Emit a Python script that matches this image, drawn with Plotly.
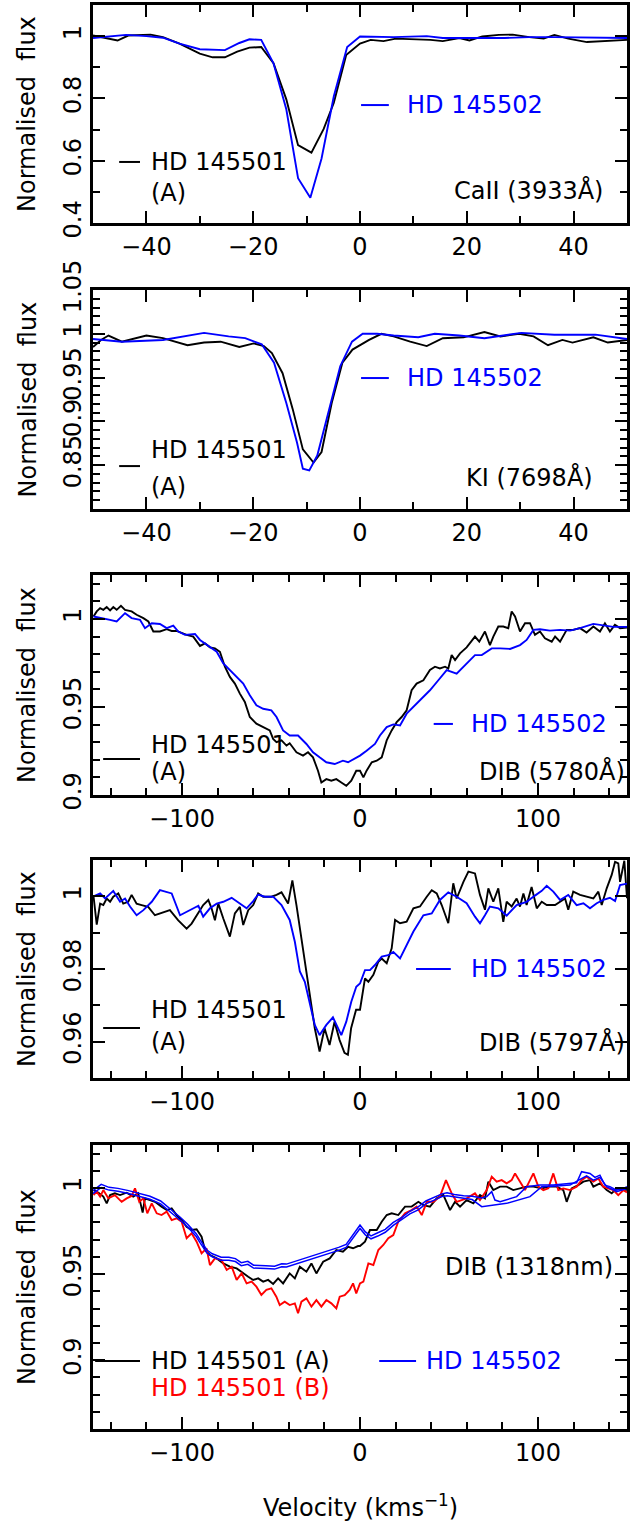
import plotly.graph_objects as go

# ---------------- data ----------------
# Panel 1: CaII (3933 A)
ca_a_v = [-50, -45.4, -43.4, -39.2, -36.9, -33.8, -30, -27.6, -25.3, -23, -20.7, -18.5, -16.2, -13.8, -11.6, -9.1,
          -6.8, -4.9, -2.6, 0, 2, 4.4, 6.7, 10.1, 13.2, 15.5, 18.6, 20.5, 22.9, 26, 28.6, 31.7, 34.4, 36.4, 39, 42.5, 45.6, 50]
ca_a_f = [1.002, 0.986, 1.002, 1.005, 0.997, 0.976, 0.944, 0.932, 0.932, 0.95, 0.963, 0.965, 0.913, 0.797, 0.65, 0.626,
          0.702, 0.786, 0.939, 0.976, 0.988, 0.984, 0.992, 0.99, 0.988, 0.984, 0.994, 0.986, 0.999, 1.004, 1.005, 0.997, 0.992, 1.004, 0.992, 0.981, 0.984, 0.988]
ca_b_v = [-50, -43.8, -40, -36.9, -33.8, -30, -25.3, -22.6, -20.7, -18.5, -16.2, -13.8, -11.6, -9.3, -7.2, -4.9, -2.4,
          0, 6.3, 12.5, 15.5, 20.9, 27.1, 31.7, 36.4, 50]
ca_b_f = [0.994, 1.004, 1.0, 0.995, 0.976, 0.958, 0.955, 0.978, 0.99, 0.988, 0.913, 0.765, 0.544, 0.481, 0.607, 0.807, 0.965,
          0.999, 0.997, 1.0, 0.994, 0.994, 0.994, 0.997, 0.997, 0.994]

# Panel 2: KI (7698 A)
k_a_v = [-50, -48.5, -47.1, -44.6, -40, -36.9, -32.3, -29.2, -26.1, -22.6, -19.9, -18, -16.5, -14.5, -12.6, -10.7, -8.7,
         -7.2, -5.3, -3.3, -1.4, 1.7, 4, 6.3, 9.4, 12.5, 15.5, 19.4, 23.3, 26.3, 29.8, 32.5, 35.2, 37.9, 39.8, 43.7, 46.4, 50]
k_a_f = [0.985, 0.993, 0.998, 0.991, 0.998, 0.995, 0.987, 0.990, 0.991, 0.985, 0.989, 0.986, 0.978, 0.955, 0.914, 0.868, 0.853,
         0.865, 0.921, 0.967, 0.982, 0.993, 1.0, 0.997, 0.991, 0.986, 0.995, 0.996, 1.002, 0.997, 1.0, 0.997, 0.987, 0.993, 0.990, 0.996, 0.990, 0.993]
k_b_v = [-50, -44.6, -36.9, -29.2, -24.6, -21.5, -18.4, -16.1, -13.8, -11.8, -10.7, -9.5, -8, -6, -3.7, -1.5, 0.5, 3.2,
         6.3, 10.9, 14, 18.6, 23.3, 30.2, 36.4, 44.1, 50]
k_b_f = [0.994, 0.991, 0.993, 1.001, 0.997, 0.995, 0.988, 0.967, 0.921, 0.876, 0.846, 0.844, 0.861, 0.91, 0.963, 0.991, 1.0, 1.0,
         0.998, 0.996, 1.0, 0.998, 0.995, 1.001, 0.999, 0.999, 0.994]

# Panel 3: DIB (5780 A)
d57_a_v = [-149.7, -147.9, -146, -144.2, -142.3, -140.4, -138.6, -136.7, -134.3, -132, -128.3, -125.5, -121.7, -118.9, -116.1,
           -112.4, -108.6, -105.8, -103, -100.2, -97.4, -93.7, -89.9, -87.1, -84.3, -81.5, -78.7, -75.9, -73.1, -70.3, -67.5,
           -64.7, -61.9, -58.2, -54.4, -50.7, -48.8, -46.9, -44.1, -41.3, -39.5, -35.7, -32, -29.2, -26.4, -23.6, -21.7, -18.9,
           -16.1, -13.3, -10.5, -7.7, -4.9, -2.1, 0, 1.9, 3.7, 6.6, 9.4, 12.2, 15, 17.8, 20.6, 23.4, 26.2, 29, 31.8, 35.6, 39.3,
           42.1, 44.9, 47.8, 49.6, 51.5, 53.4, 56.2, 59.9, 64.6, 67, 70.2, 73, 74.9, 77.7, 80.5, 83.3, 85.2, 87.1, 89.9, 92.7,
           95.5, 98.3, 101.1, 103.9, 107.7, 109.6, 112.4, 116.1, 119.8, 123.6, 127.3, 131.1, 134.8, 137.6, 140.4, 143.2, 146.1, 150]
d57_a_f = [1.0014, 1.0043, 1.0062, 1.0052, 1.0068, 1.0049, 1.0068, 1.0052, 1.0075, 1.0052, 1.0043, 1.0024, 1.0005, 0.9986, 0.9929,
           0.9929, 0.9942, 0.9932, 0.9932, 0.9919, 0.991, 0.99, 0.9847, 0.9862, 0.9839, 0.9833, 0.9814, 0.9729, 0.9671, 0.9633, 0.9576,
           0.9529, 0.9443, 0.9405, 0.9386, 0.9367, 0.9319, 0.93, 0.931, 0.9281, 0.9294, 0.9243, 0.9224, 0.9243, 0.9214, 0.9138, 0.9071, 0.909,
           0.9081, 0.909, 0.9071, 0.9052, 0.9081, 0.9138, 0.9138, 0.91, 0.9138, 0.9186, 0.9195, 0.9214, 0.931, 0.9367, 0.9414, 0.9443, 0.9481, 0.9595, 0.9633, 0.9652, 0.971,
           0.9729, 0.9719, 0.9729, 0.9719, 0.9795, 0.9767, 0.9805, 0.9839, 0.99, 0.9871, 0.9929, 0.9852, 0.99, 0.9957, 0.9957, 0.9948, 1.0043, 1.0014, 0.9929, 0.9976,
           0.9976, 0.991, 0.9929, 0.989, 0.9871, 0.99, 0.9871, 0.9938, 0.9938, 0.9948, 0.9923, 0.9957, 0.9929, 0.9976, 0.9929, 0.9967, 0.9948, 0.9952]
d57_b_v = [-149.7, -144.2, -140.4, -136.7, -132, -128.3, -123.6, -120.8, -117, -112.4, -108.6, -104.9, -102.1, -98.3, -92.7, -89.9,
           -85.2, -80.5, -76.8, -73.1, -69.3, -65.6, -61.9, -58.2, -54.4, -49.8, -46.9, -43.2, -39.5, -34.8, -30.1, -26.4, -22.7,
           -18.9, -14.2, -9.6, -6.7, -3, 0, 3.7, 8.4, 11.2, 15, 18.7, 22.5, 26.2, 30, 34.7, 39.3, 44, 48.7, 54.3, 59.9, 64.6, 68.4,
           74, 78.7, 84.3, 89.9, 93.6, 97.4, 101.1, 106.7, 112.4, 118, 123.6, 131.1, 136.7, 142.3, 150]
d57_b_f = [1.0014, 1.0005, 0.9995, 0.9986, 1.0033, 1.0005, 0.9995, 0.9948, 0.9976, 0.9972, 0.9948, 0.9962, 0.9929, 0.991, 0.9915, 0.9881,
           0.9847, 0.9814, 0.9748, 0.971, 0.9671, 0.9633, 0.9567, 0.951, 0.949, 0.9481, 0.9443, 0.9367, 0.9338, 0.9338, 0.929, 0.9243, 0.9214,
           0.9186, 0.9176, 0.9195, 0.9186, 0.9205, 0.9224, 0.9252, 0.929, 0.9338, 0.9386, 0.9401, 0.9395, 0.9462, 0.95, 0.9548, 0.9595, 0.9652, 0.971, 0.969, 0.9748, 0.9795, 0.9795,
           0.9833, 0.9833, 0.983, 0.9852, 0.9881, 0.9938, 0.9942, 0.9934, 0.9938, 0.9934, 0.9948, 0.9972, 0.9962, 0.9955, 0.9955]

# Panel 4: DIB (5797 A)
d58_a_v = [-149.7, -147.9, -146, -144.2, -142.3, -140.4, -138.6, -135.8, -133, -130.2, -128.3, -125.5, -122.7, -119, -115.2, -111.5,
           -106.8, -102.1, -97.4, -94.6, -91.8, -88.1, -85.2, -83.4, -81.5, -79.6, -76.8, -73.1, -70.3, -67.5, -65.6, -62.8, -60,
           -57.2, -54.4, -49.8, -46.9, -44.1, -40.4, -38, -35.7, -32, -28.2, -25.4, -22.7, -19.9, -17.1, -14.3, -11.5, -8.7, -6.8,
           -5, -2.2, 0, 2.8, 4.7, 7.5, 10.3, 12.2, 15, 17.8, 19.7, 22.5, 26.2, 30, 33.7, 37.5, 40.3, 43.1, 45.9, 49.6, 52.4, 54.3,
           58.1, 60.9, 64.6, 67.4, 70.2, 72.1, 74.9, 77.7, 80.5, 82.4, 85.2, 88, 89.9, 91.8, 93.6, 96.4, 99.3, 102.1, 104.9, 109.6,
           112.4, 115.2, 117, 119.8, 123.6, 127.3, 131.1, 133.9, 135.8, 138.6, 141.4, 143.3, 145.1, 146.1, 148.5, 150]
d58_a_f = [1.0, 0.9922, 0.998, 0.9976, 0.9994, 0.9985, 0.9999, 1.0008, 0.998, 0.9985, 1.0004, 0.998, 0.9976, 0.9971, 0.9948, 0.9955,
           0.9962, 0.9934, 0.9911, 0.9925, 0.9948, 0.9976, 0.999, 0.9967, 0.9934, 0.998, 0.9939, 0.9889, 0.9953, 0.9971, 0.9921, 0.9962, 0.9976,
           1.0008, 0.9999, 0.9999, 1.0004, 1.0011, 0.998, 1.0044, 0.9976, 0.9857, 0.9729, 0.9637, 0.9573, 0.9637, 0.9591, 0.9655, 0.9605, 0.9569, 0.9564,
           0.9637, 0.9688, 0.9688, 0.9774, 0.9765, 0.9784, 0.982, 0.9829, 0.9816, 0.9857, 0.9935, 0.9926, 0.993, 0.9967, 0.9972, 0.9999, 1.0017, 1.0008, 0.9976, 0.9926, 1.0036, 0.9994,
           1.004, 1.0068, 1.0063, 1.0004, 0.9963, 1.0022, 0.9985, 1.0022, 0.993, 0.9985, 0.9972, 0.9994, 0.9972, 1.0008, 0.9976, 1.0026, 0.9967, 0.9985, 0.9976, 0.9976,
           0.9985, 0.9994, 0.9963, 1.0013, 1.0004, 0.9999, 0.9994, 1.0013, 0.9976, 1.0022, 1.0059, 1.0095, 1.0091, 1.004, 1.0098, 0.9995]
d58_b_v = [-149.7, -146, -143.2, -138.6, -134.8, -132, -129.2, -125.5, -121.7, -117, -112.4, -105.8, -101.1, -95.5, -90.8, -88.1, -84.3,
           -80.5, -76.8, -72.1, -67.5, -63.7, -60, -57.2, -53.5, -48.8, -44.1, -39.5, -36.6, -33.8, -31, -28.2, -25.4, -22.7, -18.9,
           -15.2, -10.5, -7.7, -4.9, -2.1, 0, 2.8, 5.6, 8.4, 12.2, 15.9, 18.7, 22.5, 26.2, 30, 35.6, 40.3, 44.9, 49.6, 54.3, 59.9,
           64.6, 67.4, 70.2, 73, 77.7, 82.4, 88, 93.6, 98.3, 102.1, 104.9, 108.6, 112.4, 117, 121.7, 125.5, 129.2, 133, 136.7, 140.4,
           143.3, 146.1, 150]
d58_b_f = [1.0, 1.0008, 0.9994, 1.0015, 0.9985, 0.9994, 0.9972, 0.9948, 0.9962, 0.9985, 1.0017, 1.0008, 0.9948, 0.9962, 0.9974, 0.9944, 0.9967,
           0.998, 0.9985, 0.9996, 0.998, 0.9967, 0.9987, 1.0005, 0.9999, 0.9999, 0.9976, 0.9935, 0.9875, 0.9793, 0.9765, 0.9701, 0.9646, 0.9618, 0.9646,
           0.9667, 0.9618, 0.9655, 0.971, 0.9751, 0.976, 0.9797, 0.9797, 0.9811, 0.9834, 0.9838, 0.9847, 0.9829, 0.9866, 0.9903, 0.9948, 0.9953, 0.999, 1.0011, 0.9999, 0.9981,
           0.9944, 0.9926, 0.9948, 0.9972, 0.9967, 0.9947, 0.9976, 0.9985, 1.0002, 1.0015, 1.0029, 1.0013, 0.999, 1.0004, 0.9976, 0.9981, 0.9967, 0.9981, 0.999, 0.9996,
           0.9987, 1.0031, 1.0035]

# Panel 5: DIB (1318 nm)
d13_a_v = [-149.7, -146.9, -144.2, -142.3, -140.4, -137.7, -134.8, -131.1, -127.4, -124.6, -122.1, -120.8, -118, -115.2, -111.5, -108.6,
           -105.8, -103, -100.2, -97.4, -94.6, -91.8, -89, -87.1, -84.3, -80.5, -76.8, -73.1, -69.3, -65.6, -62.8, -60, -57.2, -54.4,
           -51.6, -48.8, -46, -43.2, -39.5, -36.6, -33.8, -30.1, -27.3, -24.5, -20.7, -17, -13.3, -9.6, -6.7, -3.9, -1.1, 0, 2.8, 5.6,
           9.4, 12.2, 15, 17.8, 21.5, 25.3, 29, 32.8, 35.6, 39.3, 43.1, 46.8, 50.6, 53.4, 56.2, 59.9, 63.7, 67.4, 70.2, 72.1, 74.9,
           78.7, 82.4, 86.1, 89.9, 93.6, 97.4, 102.1, 106.7, 110.5, 114.2, 116.1, 118.9, 122.6, 125.5, 129.2, 131.1, 134.8, 138.6,
           141.4, 144.2, 147, 150]
d13_a_f = [0.9988, 0.9973, 0.995, 0.9911, 0.9959, 0.9969, 0.9959, 0.9973, 0.995, 0.9969, 0.9857, 0.994, 0.993, 0.992, 0.9892, 0.9872,
           0.9882, 0.9843, 0.9814, 0.9775, 0.9756, 0.976, 0.9717, 0.964, 0.9611, 0.9591, 0.9562, 0.9543, 0.9533, 0.9504, 0.9485, 0.9466, 0.9475, 0.9456,
           0.9466, 0.9443, 0.9475, 0.9446, 0.9504, 0.9475, 0.9543, 0.9514, 0.9562, 0.9504, 0.9572, 0.9591, 0.964, 0.963, 0.9659, 0.965, 0.9663, 0.9663, 0.9688, 0.9756,
           0.9756, 0.9804, 0.9843, 0.9853, 0.9843, 0.9892, 0.9892, 0.992, 0.9901, 0.9892, 0.994, 0.996, 0.9872, 0.992, 0.9892, 0.993, 0.9911, 0.996, 0.994, 1.0037, 0.9988,
           1.0008, 1.0008, 0.9988, 0.9998, 1.0008, 1.0008, 0.9998, 1.0008, 1.0008, 0.9988, 0.992, 0.9998, 1.0017, 1.0037, 1.0046, 1.0008, 1.0027, 0.9988,
           0.9969, 0.9998, 0.9988, 0.999]
d13_b_v = [-149.7, -147.9, -146, -144.2, -141.4, -137.7, -133.9, -131.1, -128.3, -126.4, -124, -121.7, -119.5, -117, -114.2, -111.5,
           -108.6, -105.8, -103, -100.2, -97.4, -94.6, -91.8, -89, -86.2, -84.3, -81.5, -77.8, -74.9, -72.1, -69.3, -66.5, -63.7,
           -60.9, -58.2, -55.4, -52.6, -49.8, -47, -45.1, -42.3, -39.5, -36.6, -34.8, -32.9, -30.1, -27.3, -24.5, -21.7, -18.9, -16.1,
           -13.3, -11.4, -8.6, -5.8, -3.9, -2.1, 0, 1.9, 4.7, 7.5, 10.3, 13.1, 15.9, 18.7, 21.5, 25.3, 29, 31.8, 34.7, 37.5, 41.2,
           44.9, 48.3, 51.5, 54.3, 57.1, 59.9, 64.6, 67.4, 71.2, 74, 76.8, 79.6, 82.4, 85.2, 87.1, 89.9, 92.7, 95.5, 97.4, 100.2, 103,
           105.8, 108.6, 111.4, 114.2, 118, 121.7, 124.5, 127.3, 131.1, 133.9, 136.7, 139.5, 142.3, 145.1, 148, 150]
d13_b_f = [0.9959, 0.9979, 0.995, 0.9988, 0.994, 0.9959, 0.992, 0.994, 0.9954, 0.9998, 0.992, 0.994, 0.9853, 0.9911, 0.9853, 0.9843,
           0.9863, 0.9814, 0.9824, 0.9804, 0.9708, 0.9737, 0.9688, 0.962, 0.9649, 0.9552, 0.9591, 0.9582, 0.9524, 0.9543, 0.9466, 0.9504, 0.9446,
           0.9456, 0.9427, 0.9379, 0.9408, 0.9417, 0.9369, 0.932, 0.934, 0.932, 0.933, 0.9272, 0.934, 0.9359, 0.9311, 0.9349, 0.9311, 0.9349, 0.933,
           0.9301, 0.9369, 0.9378, 0.9408, 0.9446, 0.9388, 0.9446, 0.9456, 0.9562, 0.9553, 0.964, 0.9669, 0.9708, 0.9727, 0.9804, 0.9853, 0.9872, 0.9892, 0.9843, 0.992, 0.992,
           0.995, 1.0046, 0.9969, 0.992, 0.993, 0.994, 0.9969, 0.993, 0.9988, 1.0066, 1.0037, 1.0046, 1.0027, 1.0046, 1.0085, 1.0037, 0.9988, 1.0046, 1.0085, 1.0008, 0.9988,
           0.9998, 1.0085, 0.9988, 0.9998, 0.9988, 1.0008, 1.0046, 1.0066, 1.0037, 1.0056, 1.0008, 0.9998, 0.9988, 0.9959, 0.9988, 0.9975]
d13_c1_v = [-150, -145.4, -141, -136, -130, -124, -118, -112, -106, -101, -96.8, -92, -89.9, -86, -83, -78, -73.7, -70, -66.7, -63,
            -59.8, -55, -52.9, -48, -44, -41.3, -36, -29.7, -24, -18.2, -12, -7.8, -3.2, 0, 3, 6.2, 10, 14.2, 18.7, 23.5, 28, 32.7,
            37, 42, 46, 48.9, 53, 58.2, 63, 68.4, 71.2, 74, 75.8, 78.7, 83, 88, 93.6, 101.1, 108.6, 116.1, 121.7, 124.5, 129.2, 132,
            134.8, 137.6, 140.4, 144.2, 148, 150]
d13_c1_f = [0.9985, 1.0021, 1.0004, 0.9998, 0.9985, 0.9969, 0.9952, 0.9925, 0.9876, 0.983, 0.979, 0.9735, 0.97, 0.964, 0.9618, 0.9598,
            0.9598, 0.959, 0.9566, 0.9574, 0.9552, 0.9547, 0.9549, 0.9546, 0.956, 0.9558, 0.9575, 0.9598, 0.9615, 0.9632, 0.9655, 0.9672,
            0.9735, 0.9785, 0.9745, 0.9722, 0.974, 0.976, 0.98, 0.983, 0.9865, 0.989, 0.9925, 0.9948, 0.9966, 0.9972, 0.9962, 0.9955, 0.9952,
            0.9942, 0.995, 0.9979, 0.993, 0.992, 0.9935, 0.995, 1.0008, 1.0017, 1.0017, 1.0027, 1.0031, 1.0095, 1.0085, 1.0062, 1.0075,
            1.0017, 1.0008, 0.9988, 0.9998, 1.0008]
d13_c2_v = [-150, -145.4, -141, -136, -130, -124, -118, -112, -106, -101, -96.8, -92, -89.9, -86, -83, -78, -73.7, -70, -66.7, -63,
            -59.8, -55, -52.9, -48, -44, -41.3, -36, -29.7, -24, -18.2, -12, -7.8, -3.2, 0, 3, 6.2, 10, 14.2, 18.7, 23.5, 28, 32.7,
            37, 42, 46, 48.9, 53, 58.2, 63, 68.4, 82.4, 95.5, 102.1, 110.5, 118, 123.6, 127.3, 131.1, 134.8, 138.6, 144.2, 150]
d13_c2_f = [0.9968, 1.0003, 0.9988, 0.9981, 0.9968, 0.9953, 0.9935, 0.9908, 0.9859, 0.9813, 0.9773, 0.9718, 0.9683, 0.9623, 0.9601, 0.9581,
            0.9581, 0.9573, 0.9549, 0.9557, 0.9535, 0.953, 0.9532, 0.9529, 0.9543, 0.9541, 0.9558, 0.9581, 0.9598, 0.9615, 0.9638, 0.9655,
            0.9718, 0.9765, 0.9728, 0.9705, 0.9721, 0.9743, 0.9783, 0.9815, 0.985, 0.9873, 0.9908, 0.9931, 0.9951, 0.9955, 0.9948, 0.9941,
            0.9933, 0.9892, 0.9911, 0.995, 1.0008, 1.0012, 1.0017, 1.005, 1.007, 1.0046, 1.0062, 1.0008, 0.9979, 0.9998]

# ---------------- layout ----------------
FONT = "DejaVu Sans"
FS = 24
W, H = 637, 1524
X0, X1 = 93, 627
panels = [  # (top px, bottom px)
    (5, 223), (290, 509), (575, 795), (860, 1078), (1145, 1429)]

BLACK, BLUE, RED = "#000000", "#0000ff", "#ff0000"
LW = 1.9

fig = go.Figure()

def add_line(i, x, y, color, width=LW):
    fig.add_trace(go.Scatter(x=x, y=y, mode="lines", line=dict(color=color, width=width),
                             xaxis="x" if i == 0 else f"x{i+1}", yaxis="y" if i == 0 else f"y{i+1}",
                             showlegend=False, hoverinfo="skip"))

add_line(0, ca_a_v, ca_a_f, BLACK)
add_line(0, ca_b_v, ca_b_f, BLUE)
add_line(1, k_a_v, k_a_f, BLACK)
add_line(1, k_b_v, k_b_f, BLUE)
add_line(2, d57_a_v, d57_a_f, BLACK)
add_line(2, d57_b_v, d57_b_f, BLUE)
add_line(3, d58_a_v, d58_a_f, BLACK)
add_line(3, d58_b_v, d58_b_f, BLUE)
add_line(4, d13_a_v, d13_a_f, BLACK)
add_line(4, d13_b_v, d13_b_f, RED)
add_line(4, d13_c1_v, d13_c1_f, BLUE, 1.5)
add_line(4, d13_c2_v, d13_c2_f, BLUE, 1.5)

xcfg = [
    dict(range=[-50, 50], dtick=20, minor=10),
    dict(range=[-50, 50], dtick=20, minor=10),
    dict(range=[-150, 150], dtick=100, minor=20),
    dict(range=[-150, 150], dtick=100, minor=20),
    dict(range=[-150, 150], dtick=100, minor=20),
]
ycfg = [
    dict(range=[0.4, 1.1], vals=[0.4, 0.6, 0.8, 1.0], text=["0.4", "0.6", "0.8", "1"], minor=0.1),
    dict(range=[0.8, 1.05], vals=[0.85, 0.9, 0.95, 1.0, 1.05], text=["0.85", "0.9", "0.95", "1", "1.05"], minor=0.01),
    dict(range=[0.9, 1.025], vals=[0.9, 0.95, 1.0], text=["0.9", "0.95", "1"], minor=0.01),
    dict(range=[0.95, 1.01], vals=[0.96, 0.98, 1.0], text=["0.96", "0.98", "1"], minor=0.01),
    dict(range=[0.86, 1.025], vals=[0.9, 0.95, 1.0], text=["0.9", "0.95", "1"], minor=0.01),
]

layout = dict(width=W, height=H, margin=dict(l=0, r=0, t=0, b=0, autoexpand=False),
              paper_bgcolor="white", plot_bgcolor="white",
              font=dict(family=FONT, size=FS, color="black"))
for i, ((top, bot), xc, yc) in enumerate(zip(panels, xcfg, ycfg)):
    sx = "" if i == 0 else str(i + 1)
    ydom = [1 - bot / H, 1 - top / H]
    layout["xaxis" + sx] = dict(
        domain=[X0 / W, X1 / W], anchor="y" + sx, range=xc["range"], tickmode="linear", tick0=0, dtick=xc["dtick"],
        ticks="inside", ticklen=12, tickwidth=2, tickcolor="black", showline=True, linecolor="black", linewidth=2.5,
        mirror="ticks", showgrid=False, zeroline=False, automargin=False,
        minor=dict(tickmode="linear", tick0=0, dtick=xc["minor"], ticks="inside", ticklen=7, tickwidth=2, tickcolor="black", showgrid=False),
        tickfont=dict(family=FONT, size=FS, color="black"))
    layout["yaxis" + sx] = dict(
        domain=ydom, anchor="x" + sx, range=yc["range"], tickmode="array", tickvals=yc["vals"], ticktext=yc["text"],
        ticks="inside", ticklen=12, tickwidth=2, tickcolor="black", showline=True, linecolor="black", linewidth=2.5,
        mirror="ticks", showgrid=False, zeroline=False, tickangle=-90, automargin=False,
        minor=dict(tickmode="linear", tick0=0, dtick=yc["minor"], ticks="inside", ticklen=7, tickwidth=2, tickcolor="black", showgrid=False),
        tickfont=dict(family=FONT, size=FS, color="black"))
fig.update_layout(**layout)

annotations = []
shapes = []

def txt(i, fx, fy, text, color=BLACK, xanchor="left"):
    sx = "" if i == 0 else str(i + 1)
    annotations.append(dict(x=fx, y=fy, xref=f"x{sx} domain", yref=f"y{sx} domain", text=text, showarrow=False,
                            xanchor=xanchor, yanchor="middle", font=dict(family=FONT, size=FS, color=color)))

def seg(i, fx0, fx1, fy, color):
    sx = "" if i == 0 else str(i + 1)
    shapes.append(dict(type="line", x0=fx0, x1=fx1, y0=fy, y1=fy, xref=f"x{sx} domain", yref=f"y{sx} domain",
                       line=dict(color=color, width=2)))

# panel 1
seg(0, 0.502, 0.554, 0.541, BLUE); txt(0, 0.584, 0.541, "HD 145502", BLUE)
seg(0, 0.049, 0.088, 0.280, BLACK); txt(0, 0.105, 0.280, "HD 145501"); txt(0, 0.105, 0.138, "(A)")
txt(0, 0.959, 0.15, "CaII (3933Å)", xanchor="right")
# panel 2
seg(1, 0.502, 0.554, 0.598, BLUE); txt(1, 0.584, 0.598, "HD 145502", BLUE)
seg(1, 0.049, 0.088, 0.196, BLACK); txt(1, 0.105, 0.269, "HD 145501"); txt(1, 0.105, 0.10, "(A)")
txt(1, 0.94, 0.146, "KI (7698Å)", xanchor="right")
# panel 3
seg(2, 0.638, 0.674, 0.323, BLUE); txt(2, 0.704, 0.323, "HD 145502", BLUE)
seg(2, 0.019, 0.088, 0.164, BLACK); txt(2, 0.105, 0.227, "HD 145501"); txt(2, 0.105, 0.105, "(A)")
txt(2, 1.0, 0.109, "DIB (5780Å)", xanchor="right")
# panel 4
seg(3, 0.605, 0.67, 0.5, BLUE); txt(3, 0.704, 0.5, "HD 145502", BLUE)
seg(3, 0.019, 0.088, 0.229, BLACK); txt(3, 0.105, 0.312, "HD 145501"); txt(3, 0.105, 0.165, "(A)")
txt(3, 1.0, 0.165, "DIB (5797Å)", xanchor="right")
# panel 5
seg(4, 0.004, 0.088, 0.239, BLACK); txt(4, 0.105, 0.239, "HD 145501 (A)")
txt(4, 0.105, 0.144, "HD 145501 (B)", RED)
seg(4, 0.536, 0.605, 0.239, BLUE); txt(4, 0.62, 0.239, "HD 145502", BLUE)
txt(4, 0.978, 0.57, "DIB (1318nm)", xanchor="right")

# axis titles
for (top, bot) in panels:
    annotations.append(dict(x=27 / W, y=1 - (top + bot) / 2 / H, xref="paper", yref="paper", text="Normalised  flux",
                            textangle=-90, showarrow=False, xanchor="center", yanchor="middle",
                            font=dict(family=FONT, size=FS, color="black")))
annotations.append(dict(x=360 / W, y=1 - 1506 / H, xref="paper", yref="paper", text="Velocity (kms<sup>−1</sup>)",
                        showarrow=False, xanchor="center", yanchor="middle", font=dict(family=FONT, size=FS, color="black")))

fig.update_layout(annotations=annotations, shapes=shapes)
fig.write_html("out.html")
